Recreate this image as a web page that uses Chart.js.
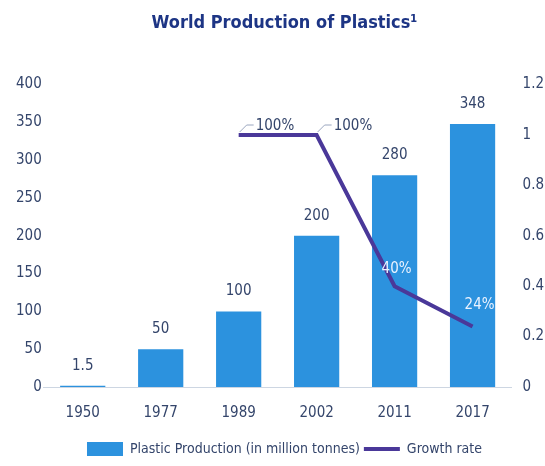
<!DOCTYPE html>
<html>
<head>
<meta charset="utf-8">
<title>World Production of Plastics</title>
<script src="https://cdn.jsdelivr.net/npm/chart.js@4/dist/chart.umd.min.js"></script>
<style>
  html, body { margin: 0; padding: 0; background: #fff; }
  #wrap { width: 545px; height: 466px; }
</style>
</head>
<body>
<div id="wrap"><canvas id="chart"></canvas></div>
<script>
const years = ['1950', '1977', '1989', '2002', '2011', '2017'];
const production = [1.5, 50, 100, 200, 280, 348];
const growthRate = [null, null, 1.0, 1.0, 0.4, 0.24];
const growthLabels = [null, null, '100%', '100%', '40%', '24%'];

const FONT = '"Liberation Sans Narrow", "Arial Narrow", "DejaVu Sans Condensed", sans-serif';
const TEXT = '#34456b';
const BAR = '#2c92de';
const LINE = '#4a3899';

// value labels above bars, percentages near the line points
const valueLabels = {
  id: 'valueLabels',
  afterDatasetsDraw(chart) {
    const ctx = chart.ctx;
    ctx.save();
    ctx.font = '15px ' + FONT;
    ctx.textAlign = 'center';
    ctx.textBaseline = 'alphabetic';

    ctx.fillStyle = TEXT;
    chart.getDatasetMeta(0).data.forEach((bar, i) => {
      ctx.fillText(String(production[i]), bar.x, bar.y - 16);
    });

    chart.getDatasetMeta(1).data.forEach((pt, i) => {
      const txt = growthLabels[i];
      if (!txt || growthRate[i] == null) return;
      if (growthRate[i] >= 1) {
        // leader line + label up and to the right
        ctx.strokeStyle = '#9aa6bf';
        ctx.lineWidth = 1;
        ctx.beginPath();
        ctx.moveTo(pt.x + 1, pt.y - 3);
        ctx.lineTo(pt.x + 8, pt.y - 10);
        ctx.lineTo(pt.x + 15, pt.y - 10);
        ctx.stroke();
        ctx.fillStyle = TEXT;
        ctx.textAlign = 'left';
        ctx.fillText(txt, pt.x + 17, pt.y - 5);
      } else {
        ctx.fillStyle = '#eaf2ff';
        ctx.textAlign = 'center';
        ctx.fillText(txt, pt.x + (i === 5 ? 7 : 2), pt.y - (i === 5 ? 18 : 13));
      }
    });
    ctx.restore();
  }
};

new Chart(document.getElementById('chart'), {
  data: {
    labels: years,
    datasets: [
      {
        type: 'bar',
        label: 'Plastic Production (in million tonnes)',
        data: production,
        backgroundColor: BAR,
        borderWidth: 0,
        barPercentage: 0.58,
        categoryPercentage: 1,
        yAxisID: 'y',
        order: 2,
        pointStyle: 'rect'
      },
      {
        type: 'line',
        label: 'Growth rate',
        data: growthRate,
        borderColor: LINE,
        backgroundColor: LINE,
        borderWidth: 4,
        pointRadius: 0,
        tension: 0,
        yAxisID: 'y1',
        order: 1,
        pointStyle: 'line'
      }
    ]
  },
  options: {
    responsive: true,
    maintainAspectRatio: false,
    animation: false,
    layout: { padding: { left: 14, right: -10, top: 8, bottom: 0 } },
    scales: {
      x: {
        grid: { display: false },
        border: { display: true, color: '#cdd6e2', width: 1 },
        ticks: { color: TEXT, font: { family: FONT, size: 15 }, padding: 9 },
        afterFit: s => { s.height += 7; }
      },
      y: {
        position: 'left',
        min: 0, max: 400,
        grid: { display: false, drawTicks: false },
        border: { display: false },
        ticks: { stepSize: 50, color: TEXT, font: { family: FONT, size: 15 }, padding: 2 }
      },
      y1: {
        position: 'right',
        min: 0, max: 1.2,
        grid: { display: false, drawTicks: false },
        border: { display: false },
        ticks: {
          stepSize: 0.2,
          color: TEXT,
          font: { family: FONT, size: 15 },
          padding: 11,
          callback: v => String(+v.toFixed(1))
        }
      }
    },
    plugins: {
      title: {
        display: true,
        text: 'World Production of Plastics\u00b9',
        color: '#1d3585',
        font: { family: FONT, size: 18, weight: 'bold' },
        padding: { top: 5, bottom: 50 }
      },
      legend: {
        position: 'bottom',
        labels: {
          color: TEXT,
          font: { family: FONT, size: 14 },
          usePointStyle: true,
          pointStyleWidth: 36,
          boxHeight: 16,
          padding: 4,
          sort: (a, b) => a.datasetIndex - b.datasetIndex
        }
      },
      tooltip: { enabled: false }
    }
  },
  plugins: [valueLabels]
});
</script>
</body>
</html>
